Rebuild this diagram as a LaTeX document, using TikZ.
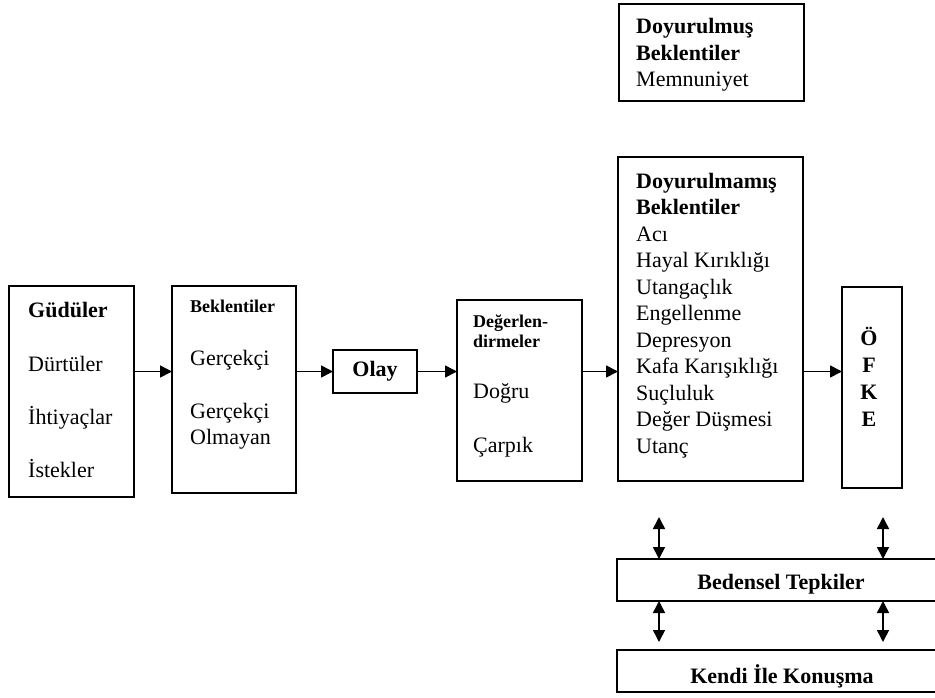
\documentclass[tikz,border=0pt]{standalone}
\usepackage{fontspec}
\setmainfont{Liberation Serif}
\usetikzlibrary{arrows.meta,calc}
\begin{document}
\begin{tikzpicture}[x=1pt,y=-1pt,
  box/.style={draw, line width=1.6pt, inner sep=0pt, outer sep=0pt, rectangle},
  txt/.style={inner sep=0pt, anchor=base west, font=\fontsize{22}{26.5}\selectfont},
  btxt/.style={inner sep=0pt, anchor=base west, font=\fontsize{22}{26.5}\selectfont\bfseries},
  stxt/.style={inner sep=0pt, anchor=base west, font=\fontsize{18}{20}\selectfont\bfseries},
  ctxt/.style={inner sep=0pt, anchor=base, font=\fontsize{22}{26.5}\selectfont\bfseries},
  arr/.style={line width=1.6pt, -{Triangle[length=12pt,width=12pt]}},
  darr/.style={line width=1.6pt, {Triangle[length=12pt,width=12pt]}-{Triangle[length=12pt,width=12pt]}}]
\useasboundingbox (0,0) rectangle (935,697);
\clip (0,0) rectangle (935,697);
% boxes
\node[box, minimum width=125, minimum height=211] (gud) at (71.5,391.5) {};
\node[box, minimum width=124, minimum height=207] (bek) at (234,389.5) {};
\node[box, minimum width=84, minimum height=43, font=\fontsize{22}{26.5}\selectfont\bfseries] (olay) at (375,371.5) {Olay};
\node[box, minimum width=125, minimum height=181] (deg) at (519.5,390.5) {};
\node[box, minimum width=185, minimum height=97] (doy) at (711.5,52.5) {};
\node[box, minimum width=185, minimum height=324] (doym) at (710.5,319) {};
\node[box, minimum width=60, minimum height=201] (ofke) at (872,387.5) {};
\node[box, minimum width=328, minimum height=42] (bed) at (781,580) {};
\node[box, minimum width=328, minimum height=42] (kendi) at (781,671) {};
% Güdüler texts
\node[btxt] (g1) at (28,317) {Güdüler};
\node[txt] (g2) at (28,371) {Dürtüler};
\node[txt] (g3) at (28,424) {İhtiyaçlar};
\node[txt] (g4) at (28,477) {İstekler};
% Beklentiler texts
\node[stxt] (b1) at (190,312) {Beklentiler};
\node[txt] (b2) at (190,365) {Gerçekçi};
\node[txt] (b3) at (190,418) {Gerçekçi};
\node[txt] (b4) at (190,444.5) {Olmayan};
% Değerlendirmeler texts
\node[stxt] (d1) at (473,327) {Değerlen-};
\node[stxt] (d2) at (473,347) {dirmeler};
\node[txt] (d3) at (473,398) {Doğru};
\node[txt] (d4) at (473,452) {Çarpık};
% Doyurulmuş
\node[btxt] (y1) at (636,33) {Doyurulmuş};
\node[btxt] (y2) at (636,60) {Beklentiler};
\node[txt] (y3) at (636,86.5) {Memnuniyet};
% Doyurulmamış
\node[btxt] (m1) at (636,188) {Doyurulmamış};
\node[btxt] (m2) at (636,214.5) {Beklentiler};
\foreach \t [count=\i] in {Acı,Hayal Kırıklığı,Utangaçlık,Engellenme,Depresyon,Kafa Karışıklığı,Suçluluk,Değer Düşmesi,Utanç}
  \node[txt] (ml\i) at (636,{241+26.5*(\i-1)}) {\t};
% ÖFKE
\node[ctxt] (o1) at (869,345) {Ö};
\node[ctxt] (o2) at (869,372) {F};
\node[ctxt] (o3) at (869,399) {K};
\node[ctxt] (o4) at (869,426) {E};
% bottom texts
\node[ctxt] (bt) at (781,589) {Bedensel Tepkiler};
\node[ctxt] (kt) at (782,683) {Kendi İle Konuşma};
% arrows
\draw[arr] (gud.east |- olay) -- (bek.west |- olay);
\draw[arr] (bek.east |- olay) -- (olay.west);
\draw[arr] (olay.east) -- (deg.west |- olay);
\draw[arr] (deg.east |- olay) -- (doym.west |- olay);
\draw[arr] (doym.east |- olay) -- (ofke.west |- olay);
% double arrows
\coordinate (t1) at (659,517);
\coordinate (t2) at (883,517);
\coordinate (u1) at (659,642);
\coordinate (u2) at (883,642);
\draw[darr] (t1) -- (t1 |- bed.north);
\draw[darr] (t2) -- (t2 |- bed.north);
\draw[darr] (u1 |- bed.south) -- (u1);
\draw[darr] (u2 |- bed.south) -- (u2);
\end{tikzpicture}
\end{document}
